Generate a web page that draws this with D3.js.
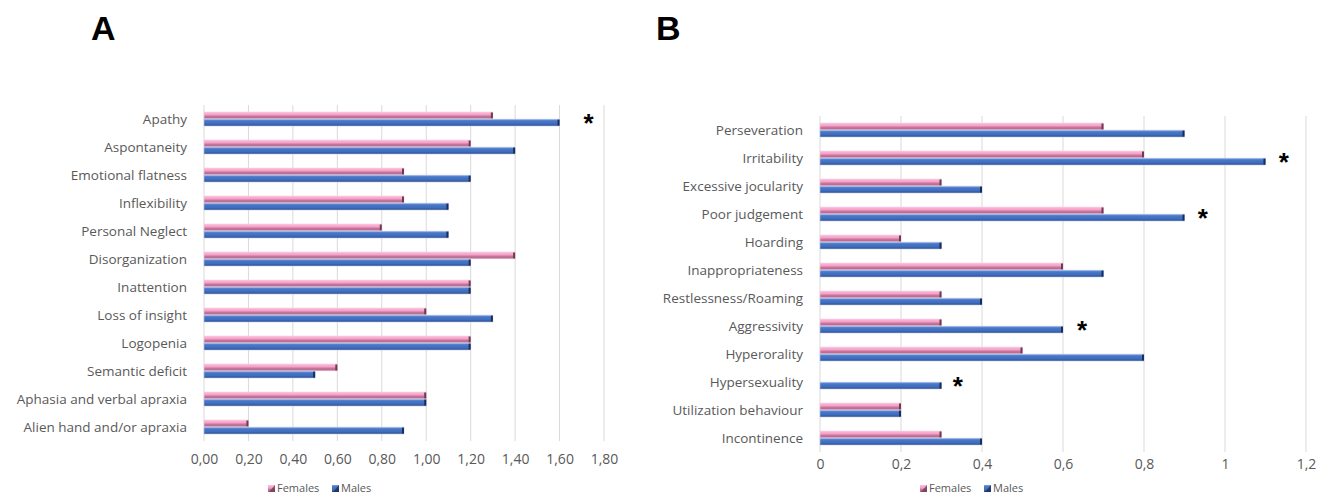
<!DOCTYPE html>
<html>
<head>
<meta charset="utf-8">
<script src="https://cdn.jsdelivr.net/npm/d3@7"></script>
<style>
  body { margin: 0; background: #fff; }
  text { font-family: "Open Sans", "Noto Sans", sans-serif; fill: #595959; }
  .panel-title { font-family: "Liberation Sans", Arial, sans-serif; font-weight: bold; fill: #000; }
  .star { font-family: "Liberation Sans", Arial, sans-serif; font-weight: bold; fill: #000; }
</style>
</head>
<body>
<div class="chart"></div>
<script>
const seriesNames = ["Females", "Males"]

const catsA = ["Apathy", "Aspontaneity", "Emotional flatness", "Inflexibility", "Personal Neglect",
  "Disorganization", "Inattention", "Loss of insight", "Logopenia", "Semantic deficit",
  "Aphasia and verbal apraxia", "Alien hand and/or apraxia"]
const femalesA = [1.3, 1.2, 0.9, 0.9, 0.8, 1.4, 1.2, 1.0, 1.2, 0.6, 1.0, 0.2]
const malesA = [1.6, 1.4, 1.2, 1.1, 1.1, 1.2, 1.2, 1.3, 1.2, 0.5, 1.0, 0.9]
const ticksA = [0, 0.2, 0.4, 0.6, 0.8, 1.0, 1.2, 1.4, 1.6, 1.8]
const starsA = [{cat: "Apathy", at: 1.73}]

const catsB = ["Perseveration", "Irritability", "Excessive jocularity", "Poor judgement", "Hoarding",
  "Inappropriateness", "Restlessness/Roaming", "Aggressivity", "Hyperorality", "Hypersexuality",
  "Utilization behaviour", "Incontinence"]
const femalesB = [0.7, 0.8, 0.3, 0.7, 0.2, 0.6, 0.3, 0.3, 0.5, 0, 0.2, 0.3]
const malesB = [0.9, 1.1, 0.4, 0.9, 0.3, 0.7, 0.4, 0.6, 0.8, 0.3, 0.2, 0.4]
const ticksB = [0, 0.2, 0.4, 0.6, 0.8, 1, 1.2]
const starsB = [
  {cat: "Irritability", at: 1.145},
  {cat: "Poor judgement", at: 0.945},
  {cat: "Aggressivity", at: 0.647},
  {cat: "Hypersexuality", at: 0.34}
]

const W = 1326, H = 495

const svg = d3.select(".chart").append("svg")
  .attr("width", W)
  .attr("height", H)

const defs = svg.append("defs")

// excel-like 3d bar shading
function addGradient(id, stops){
  const g = defs.append("linearGradient")
    .attr("id", id)
    .attr("x1", 0).attr("y1", 0).attr("x2", 0).attr("y2", 1)
  stops.forEach(s => {
    g.append("stop").attr("offset", s[0]).attr("stop-color", s[1])
  })
}
addGradient("pinkGrad", [["0%", "#fbbfdb"], ["45%", "#f59cc6"], ["58%", "#c9769c"], ["100%", "#b0678a"]])
addGradient("blueGrad", [["0%", "#7ea2e0"], ["25%", "#4a78c9"], ["70%", "#3e6bbb"], ["100%", "#2b4a86"]])

const fills = ["url(#pinkGrad)", "url(#blueGrad)"]
const caps = ["#6e3a52", "#1b2e58"]

function drawPanel(o){
  const x = d3.scaleLinear().domain(o.domain).range([o.x0, o.x1])
  const y = d3.scaleBand().domain(o.cats).range([o.y0, o.y0 + 28 * o.cats.length])
  const sub = d3.scaleBand().domain(seriesNames).range([7, 21]).paddingInner(0.04)

  const g = svg.append("g")

  // gridlines
  g.append("g")
    .selectAll("line")
    .data(o.ticks)
    .join("line")
    .attr("x1", d => x(d)).attr("x2", d => x(d))
    .attr("y1", y.range()[0]).attr("y2", y.range()[1])
    .attr("stroke", "#d9d9d9")
    .attr("stroke-width", 1)

  // x axis labels
  const xAxis = d3.axisBottom(x)
    .tickValues(o.ticks)
    .tickSize(0)
    .tickPadding(0)
    .tickFormat(o.fmt)

  g.append("g")
    .attr("transform", `translate(0,${o.tickY})`)
    .call(xAxis)
    .call(a => a.select(".domain").remove())
    .selectAll("text")
    .attr("fill", "#595959")
    .style("font-size", "14px")
    .style("font-family", "'Open Sans', sans-serif")

  // category labels
  g.append("g")
    .selectAll("text")
    .data(o.cats)
    .join("text")
    .attr("x", o.x0 - 17)
    .attr("y", d => y(d) + y.bandwidth() / 2)
    .attr("dy", "0.35em")
    .style("text-anchor", "end")
    .style("font-size", "13.5px")
    .text(d => d)

  // bars
  const rows = o.cats.map((c, i) => ({cat: c, vals: [o.fem[i], o.mal[i]]}))
  const grp = g.append("g")
    .selectAll("g")
    .data(rows)
    .join("g")
    .attr("transform", d => `translate(0,${y(d.cat)})`)

  seriesNames.forEach((s, si) => {
    const bars = grp.filter(d => d.vals[si] > 0)
    bars.append("rect")
      .attr("x", x(0))
      .attr("y", sub(s))
      .attr("width", d => x(d.vals[si]) - x(0))
      .attr("height", sub.bandwidth())
      .attr("fill", fills[si])
      .attr("stroke", si === 0 ? "#f6cfe1" : "#b9c9ea")
      .attr("stroke-width", 0.6)
    bars.append("rect")
      .attr("x", d => x(d.vals[si]) - 2)
      .attr("y", sub(s) + 0.5)
      .attr("width", 2)
      .attr("height", sub.bandwidth() - 1)
      .attr("fill", caps[si])
  })

  // significance marks
  g.append("g")
    .selectAll("text")
    .data(o.stars)
    .join("text")
    .attr("class", "star")
    .attr("x", d => x(d.at))
    .attr("y", d => y(d.cat) + y.bandwidth() / 2 + 13)
    .style("text-anchor", "middle")
    .style("font-size", "26px")
    .text("*")

  // legend
  const leg = g.append("g").attr("transform", `translate(${o.legX},${o.legY})`)
  const items = leg.selectAll("g")
    .data(seriesNames)
    .join("g")
    .attr("transform", (d, i) => `translate(${i * 64},0)`)
  items.append("rect")
    .attr("x", 0).attr("y", -7)
    .attr("width", 7).attr("height", 7)
    .attr("fill", (d, i) => fills[i])
  items.append("path")
    .attr("d", "M7,-7 L7,0 L1,0 Z")
    .attr("fill", (d, i) => caps[i])
    .attr("opacity", 0.8)
  items.append("text")
    .attr("x", 9)
    .attr("y", 0)
    .style("font-size", "11px")
    .text(d => d)

  // panel letter
  svg.append("text")
    .attr("class", "panel-title")
    .attr("x", o.titleX)
    .attr("y", 40)
    .style("font-size", "34px")
    .text(o.title)
}

drawPanel({
  title: "A", titleX: 91,
  cats: catsA, fem: femalesA, mal: malesA, stars: starsA,
  domain: [0, 1.8], ticks: ticksA, fmt: d3.format(".2f"),
  x0: 204, x1: 604, y0: 105, tickY: 454,
  legX: 268, legY: 492
})

drawPanel({
  title: "B", titleX: 656,
  cats: catsB, fem: femalesB, mal: malesB, stars: starsB,
  domain: [0, 1.2], ticks: ticksB, fmt: d => d3.format("~g")(d),
  x0: 820, x1: 1306, y0: 116, tickY: 459,
  legX: 920, legY: 492
})

// decimal comma as in the source
svg.selectAll(".tick text").text(function(){ return d3.select(this).text().replace(".", ",") })
</script>
</body>
</html>
